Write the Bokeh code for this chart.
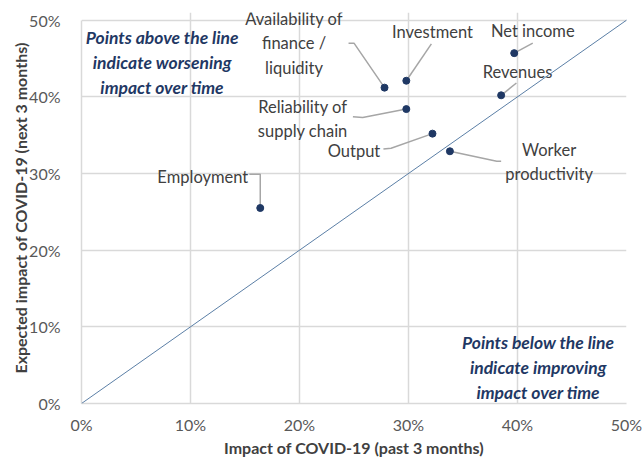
from bokeh.plotting import figure
from bokeh.models import Range1d, FixedTicker, PrintfTickFormatter, Slope, ColumnDataSource
from bokeh.core.properties import value
from bokeh.embed import file_html
from bokeh.resources import INLINE

# ---- data (percent) ----
categories = ["Employment", "Availability of finance / liquidity", "Investment", "Net income",
              "Revenues", "Reliability of supply chain", "Output", "Worker productivity"]
past_3m = [16.4, 27.8, 29.8, 39.7, 38.5, 29.8, 32.2, 33.8]
next_3m = [25.5, 41.2, 42.1, 45.7, 40.2, 38.4, 35.2, 32.9]
tick_values = [0, 10, 20, 30, 40, 50]

# ---- label layout (display text, positions, leader elbows) ----
label_text = ["Employment", "Availability of\nfinance /\nliquidity", "Investment", "Net income",
              "Revenues", "Reliability of\nsupply chain", "Output", "Worker\nproductivity"]
label_x = [15.3, 19.5, 32.2, 41.4, 40.0, 20.3, 25.0, 42.9]
label_y = [29.6, 47.0, 48.4, 48.6, 43.3, 37.1, 33.0, 31.5]
label_align = ["right", "center", "center", "center", "center", "center", "center", "center"]
leader_anchor_x = [[15.4, 16.4], [24.5, 25.0], [32.1], [41.4], [39.9], [24.9, 25.8], [27.7, 28.4], [38.5, 38.1]]
leader_anchor_y = [[29.9, 29.9], [47.0, 47.0], [46.9], [47.0], [41.8], [37.4, 37.3], [33.2, 33.3], [31.6, 31.6]]

note_text = ["Points above the line\nindicate worsening\nimpact over time",
             "Points below the line\nindicate improving\nimpact over time"]
note_x = [7.4, 41.9]
note_y = [44.5, 4.7]

FONT = "Lato"
GRID = "#d9d9d9"
NAVY = "#1f3864"

# y range runs a little past 50% so the top label is not clipped; the 50% gridline is the border
p = figure(width=642, height=459, output_backend="svg", toolbar_location=None,
           x_range=Range1d(0, 50), y_range=Range1d(0, 51),
           min_border_left=81, min_border_right=16, min_border_top=12, min_border_bottom=56)
p.outline_line_color = None
p.background_fill_color = "white"
p.border_fill_color = "white"

for ax in (p.xaxis[0], p.yaxis[0]):
    ax.ticker = FixedTicker(ticks=tick_values)
    ax.formatter = PrintfTickFormatter(format="%d%%")
    ax.bounds = (0, 50)
    ax.major_tick_line_color = None
    ax.minor_tick_line_color = None
    ax.axis_line_color = GRID
    ax.axis_line_width = 1.5
    ax.major_label_text_font = FONT
    ax.major_label_text_font_size = "16px"
    ax.major_label_text_color = "#595959"
    ax.axis_label_text_font = FONT
    ax.axis_label_text_font_size = "16px"
    ax.axis_label_text_font_style = "bold"
    ax.axis_label_text_color = "#404040"

p.xaxis.axis_label = "Impact of COVID-19 (past 3 months)"
p.yaxis.axis_label = "Expected impact of COVID-19 (next 3 months)"
p.xaxis.major_label_standoff = 5
p.yaxis.major_label_standoff = 15
p.xaxis.axis_label_standoff = 1
p.yaxis.axis_label_standoff = -4

p.xgrid.ticker = FixedTicker(ticks=tick_values)
p.ygrid.ticker = FixedTicker(ticks=tick_values)
p.grid.grid_line_color = GRID
p.grid.grid_line_width = 1.5

# diagonal y = x
p.add_layout(Slope(gradient=1, y_intercept=0, line_color="#5b7fa6", line_width=1))

# leader lines
xs = [ax_ + [px] for ax_, px in zip(leader_anchor_x, past_3m)]
ys = [ay_ + [py] for ay_, py in zip(leader_anchor_y, next_3m)]
p.multi_line(xs=xs, ys=ys, line_color="#a6a6a6", line_width=1.5)

# points
src = ColumnDataSource(dict(x=past_3m, y=next_3m, name=categories))
p.scatter("x", "y", source=src, size=7, fill_color=NAVY, line_color=NAVY)

# labels
lsrc = ColumnDataSource(dict(x=label_x, y=label_y, t=label_text, a=label_align))
p.text("x", "y", text="t", source=lsrc, text_align="a", text_baseline="middle",
       text_font=value(FONT), text_font_size="16.5px", text_color="#404040", text_line_height=1.22)

# notes
nsrc = ColumnDataSource(dict(x=note_x, y=note_y, t=note_text))
p.text("x", "y", text="t", source=nsrc, text_align="center", text_baseline="middle",
       text_font=value(FONT), text_font_size="17.5px", text_font_style="bold italic",
       text_color=NAVY, text_line_height=1.2)

open("out.html", "w").write(file_html(p, INLINE))
